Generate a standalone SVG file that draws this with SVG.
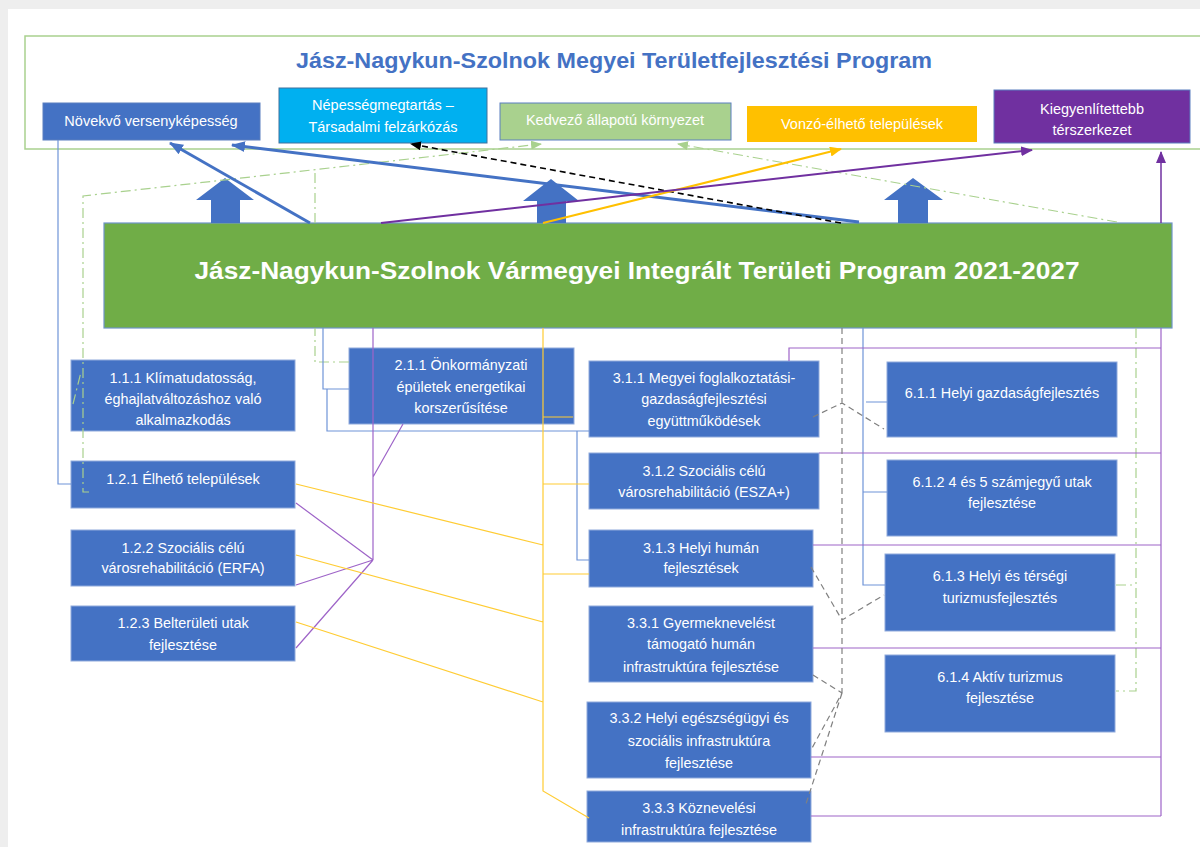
<svg xmlns="http://www.w3.org/2000/svg" width="1200" height="847" viewBox="0 0 1200 847">
<style>
.box{fill:#4472c4;stroke:#8faadc;stroke-width:1}
.t{font-family:"Liberation Sans",Arial,sans-serif;font-size:14.4px;fill:#ffffff;text-anchor:middle}
.tt{font-family:"Liberation Sans",Arial,sans-serif;font-size:14.5px;fill:#ffffff;text-anchor:middle}
.thin{fill:none;stroke-width:1.2}
.bl{stroke:#6f94d8}
.pu{stroke:#9e64c8}
.or{stroke:#ffcc33}
.gr{stroke:#a9d18e;stroke-dasharray:10 4 2 4}
.gy{stroke:#808080;stroke-dasharray:6 4}
</style>
<defs>
<marker id="mBlue" markerUnits="userSpaceOnUse" markerWidth="14" markerHeight="11" viewBox="0 0 14 11" refX="13" refY="5.5" orient="auto"><path d="M0,0 L14,5.5 L0,11 z" fill="#4472c4"/></marker>
<marker id="mBlack" markerUnits="userSpaceOnUse" markerWidth="11" markerHeight="9" viewBox="0 0 11 9" refX="10" refY="4.5" orient="auto"><path d="M0,0 L11,4.5 L0,9 z" fill="#000000"/></marker>
<marker id="mGreen" markerUnits="userSpaceOnUse" markerWidth="11" markerHeight="9" viewBox="0 0 11 9" refX="10" refY="4.5" orient="auto"><path d="M0,0 L11,4.5 L0,9 z" fill="#a9d18e"/></marker>
<marker id="mOrange" markerUnits="userSpaceOnUse" markerWidth="12" markerHeight="10" viewBox="0 0 12 10" refX="11" refY="5" orient="auto"><path d="M0,0 L12,5 L0,10 z" fill="#ffc000"/></marker>
<marker id="mPurple" markerUnits="userSpaceOnUse" markerWidth="12" markerHeight="10" viewBox="0 0 12 10" refX="11" refY="5" orient="auto"><path d="M0,0 L12,5 L0,10 z" fill="#7030a0"/></marker>
</defs>
<rect x="0" y="0" width="1200" height="847" fill="#eeeeee"/>
<rect x="8" y="9" width="1192" height="838" fill="#ffffff"/>

<g id="frame">
<rect x="25" y="36" width="1185" height="113" fill="none" stroke="#a9d18e" stroke-width="1.5"/>
<text x="614" y="68" font-family="'Liberation Sans',Arial,sans-serif" font-size="21.5" font-weight="bold" fill="#4472c4" text-anchor="middle" textLength="636" lengthAdjust="spacingAndGlyphs">Jász-Nagykun-Szolnok Megyei Területfejlesztési Program</text>
</g>

<g id="goal-1">
<rect x="43" y="103" width="217" height="37" fill="#4472c4" stroke="#5b7fbf"/>
<text class="tt" x="151" y="126">Növekvő versenyképesség</text>
</g>
<g id="goal-2">
<rect x="279" y="88" width="208" height="55" fill="#00b0f0" stroke="#41719c"/>
<text class="tt" x="383" y="110">Népességmegtartás –</text>
<text class="tt" x="383" y="132">Társadalmi felzárkózás</text>
</g>
<g id="goal-3">
<rect x="500" y="103" width="231" height="37" fill="#a9d18e" stroke="#5b7fbf"/>
<text class="tt" x="615" y="125">Kedvező állapotú környezet</text>
</g>
<g id="goal-4">
<rect x="747" y="106" width="230" height="36" fill="#ffc000"/>
<text class="tt" x="862" y="129">Vonzó-élhető települések</text>
</g>
<g id="goal-5">
<rect x="994" y="90" width="196" height="53" fill="#7030a0" stroke="#5b7fbf"/>
<text class="tt" x="1092" y="114">Kiegyenlítettebb</text>
<text class="tt" x="1092" y="135">térszerkezet</text>
</g>

<g id="program-bar">
<rect x="104" y="223" width="1068" height="105" fill="#70ad47" stroke="#6f94c8" stroke-width="1.2"/>
<text x="637" y="279" font-family="'Liberation Sans',Arial,sans-serif" font-size="24.5" font-weight="bold" fill="#ffffff" text-anchor="middle" textLength="885" lengthAdjust="spacingAndGlyphs">Jász-Nagykun-Szolnok Vármegyei Integrált Területi Program 2021-2027</text>
</g>

<g id="n111"><rect class="box" x="71" y="360" width="224" height="71"/>
<text class="t" x="183" y="383">1.1.1 Klímatudatosság,</text><text class="t" x="183" y="404">éghajlatváltozáshoz való</text><text class="t" x="183" y="425">alkalmazkodás</text></g>
<g id="n211"><rect class="box" x="349" y="348" width="225" height="76"/>
<text class="t" x="461" y="370">2.1.1 Önkormányzati</text><text class="t" x="461" y="392">épületek energetikai</text><text class="t" x="461" y="413">korszerűsítése</text></g>
<g id="n121"><rect class="box" x="71" y="461" width="224" height="47"/>
<text class="t" x="183" y="484">1.2.1 Élhető települések</text></g>
<g id="n122"><rect class="box" x="71" y="530" width="224" height="56"/>
<text class="t" x="183" y="553">1.2.2 Szociális célú</text><text class="t" x="183" y="573">városrehabilitáció (ERFA)</text></g>
<g id="n123"><rect class="box" x="71" y="606" width="224" height="55"/>
<text class="t" x="183" y="628">1.2.3 Belterületi utak</text><text class="t" x="183" y="650">fejlesztése</text></g>
<g id="n311"><rect class="box" x="589" y="361" width="230" height="76"/>
<text class="t" x="704" y="383">3.1.1 Megyei foglalkoztatási-</text><text class="t" x="704" y="404">gazdaságfejlesztési</text><text class="t" x="704" y="426">együttműködések</text></g>
<g id="n312"><rect class="box" x="589" y="453" width="230" height="56"/>
<text class="t" x="704" y="476">3.1.2 Szociális célú</text><text class="t" x="704" y="497">városrehabilitáció (ESZA+)</text></g>
<g id="n313"><rect class="box" x="589" y="530" width="224" height="57"/>
<text class="t" x="701" y="553">3.1.3 Helyi humán</text><text class="t" x="701" y="573">fejlesztések</text></g>
<g id="n331"><rect class="box" x="589" y="606" width="224" height="76"/>
<text class="t" x="701" y="628">3.3.1 Gyermeknevelést</text><text class="t" x="701" y="649">támogató humán</text><text class="t" x="701" y="672">infrastruktúra fejlesztése</text></g>
<g id="n332"><rect class="box" x="587" y="702" width="224" height="76"/>
<text class="t" x="699" y="723">3.3.2 Helyi egészségügyi és</text><text class="t" x="699" y="746">szociális infrastruktúra</text><text class="t" x="699" y="768">fejlesztése</text></g>
<g id="n333"><rect class="box" x="587" y="791" width="224" height="51"/>
<text class="t" x="699" y="813">3.3.3 Köznevelési</text><text class="t" x="699" y="835">infrastruktúra fejlesztése</text></g>
<g id="n611"><rect class="box" x="887" y="362" width="230" height="75"/>
<text class="t" x="1002" y="398">6.1.1 Helyi gazdaságfejlesztés</text></g>
<g id="n612"><rect class="box" x="887" y="460" width="230" height="76"/>
<text class="t" x="1002" y="487">6.1.2 4 és 5 számjegyű utak</text><text class="t" x="1002" y="508">fejlesztése</text></g>
<g id="n613"><rect class="box" x="885" y="554" width="230" height="77"/>
<text class="t" x="1000" y="581">6.1.3 Helyi és térségi</text><text class="t" x="1000" y="603">turizmusfejlesztés</text></g>
<g id="n614"><rect class="box" x="885" y="655" width="230" height="77"/>
<text class="t" x="1000" y="682">6.1.4 Aktív turizmus</text><text class="t" x="1000" y="703">fejlesztése</text></g>

<g id="block-arrows" fill="#4472c4">
<path d="M225 178 L254 200 L240 200 L240 223 L211 223 L211 200 L196 200 Z"/>
<path d="M551 179 L579 201 L566 201 L566 223 L537 223 L537 201 L523 201 Z"/>
<path d="M913 178 L943 200 L928 200 L928 223 L898 223 L898 200 L884 200 Z"/>
</g>

<g id="connectors">
<path class="thin gr" d="M89 492 H83 V196 L541 144" stroke-width="1.5" marker-end="url(#mGreen)"/>
<path class="thin gr" d="M1117 222 L678 144" stroke-width="1.5" marker-end="url(#mGreen)"/>
<path class="thin gr" d="M349 362 H315 V328 M315 223 V170"/>
<path class="thin gr" d="M1136 328 V691 H1116 M1116 585 H1136"/>
<path class="thin gr" d="M73 404 L81 372"/>
<path d="M310 223 L170 143" fill="none" stroke="#4472c4" stroke-width="3" marker-end="url(#mBlue)"/>
<path d="M859 222 L232 145" fill="none" stroke="#4472c4" stroke-width="3" marker-end="url(#mBlue)"/>
<path d="M841 223 L411 144" fill="none" stroke="#000000" stroke-width="1.6" stroke-dasharray="6 4" marker-end="url(#mBlack)"/>
<path d="M543 223 L841 149" fill="none" stroke="#ffc000" stroke-width="2" marker-end="url(#mOrange)"/>
<path d="M381 223 L1032 150" fill="none" stroke="#7030a0" stroke-width="2" marker-end="url(#mPurple)"/>
<path d="M1161 223 V152" fill="none" stroke="#7030a0" stroke-width="1.5" marker-end="url(#mPurple)"/>
<path class="thin bl" d="M58 140 V484 H71"/>
<path class="thin bl" d="M323 328 V389 H349"/>
<path class="thin bl" d="M327 389 V431 H589 M577 431 V560 H589"/>
<path class="thin bl" d="M863 328 V585 H885 M866 402 H887 M863 492 H887"/>
<path class="thin pu" d="M373 328 V560 M403 424 L373 477 M296 503 L373 560 M296 585 L373 560 M296 648 L373 560"/>
<path class="thin pu" d="M1161 328 V816 M789 361 V348 H1161 M819 453 H1161 M813 545 H1161 M813 648 H1161 M811 757 H1161 M811 816 H1161" stroke-width="1.5"/>
<path class="thin or" d="M543 328 V791 L589 818 M543 417 H573 M543 484 H589 M543 574 H589 M296 484 L543 545 M296 555 L543 622 M296 622 L543 702"/>
<path class="thin gy" d="M842 328 V693 M813 417 L842 403 L884 429 M811 567 L842 620 L884 595 M813 675 L842 693 L811 750 M842 693 L805 807"/>
</g>
</svg>
